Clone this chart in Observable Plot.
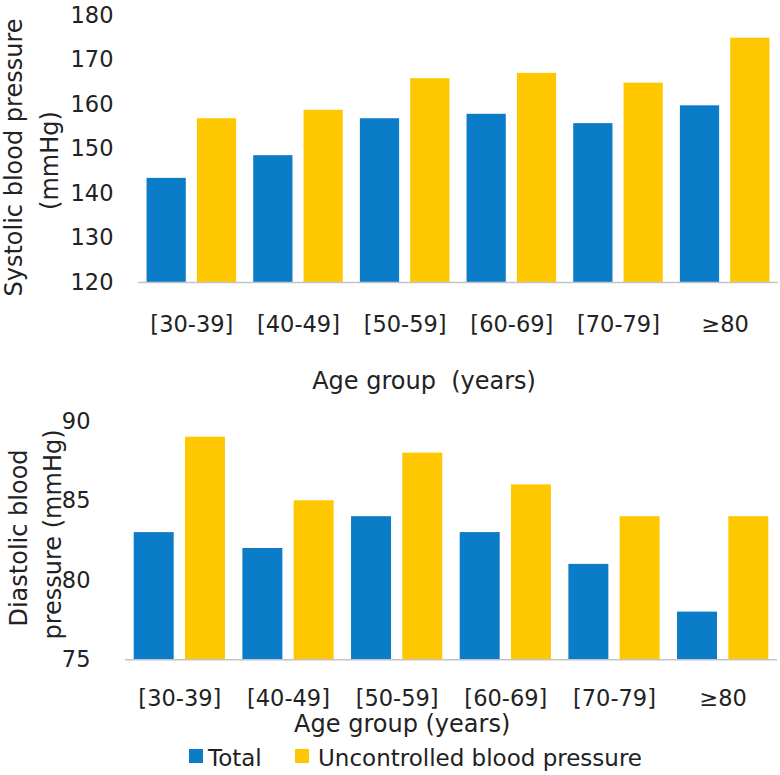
<!DOCTYPE html>
<html><head><meta charset="utf-8">
<script src="https://cdn.jsdelivr.net/npm/d3@7"></script>
<script src="https://cdn.jsdelivr.net/npm/@observablehq/plot@0.6"></script>
<style>
body{margin:0;background:#fff;}
#chart{position:relative;width:780px;height:775px;font-family:"DejaVu Sans",sans-serif;color:#222;overflow:hidden;}
#chart svg{display:block;}
.leg-box{position:absolute;width:14px;height:14px;}
.leg-txt{position:absolute;font-size:23px;line-height:23px;white-space:nowrap;}
</style></head><body><div id="chart"></div>
<script>
// ---- data ----
const ageGroups = ["[30-39]", "[40-49]", "[50-59]", "[60-69]", "[70-79]", "≥80"];
const seriesNames = ["Total", "Uncontrolled blood pressure"];
const systolicTotal = [143.4, 148.5, 156.8, 157.8, 155.7, 159.7];
const systolicUncontrolled = [156.8, 158.7, 165.8, 167.0, 164.8, 174.9];
const diastolicTotal = [83, 82, 84, 83, 81, 78];
const diastolicUncontrolled = [89, 85, 88, 86, 84, 84];
const systolicTicks = [120, 130, 140, 150, 160, 170, 180];
const diastolicTicks = [75, 80, 85, 90];
const seriesColors = ["#0a7cc8", "#ffc700"];

function rows(total, unc) {
  const out = [];
  ageGroups.forEach((g, i) => {
    out.push({group: g, series: seriesNames[0], value: total[i]});
    out.push({group: g, series: seriesNames[1], value: unc[i]});
  });
  return out;
}

const root = document.getElementById("chart");
const font = {fontFamily: "'DejaVu Sans', sans-serif", fontSize: "22.5px", color: "#222", background: "#fff", overflow: "visible"};

function panel(opts) {
  const data = rows(opts.total, opts.unc);
  const base = opts.ticks[0];
  return Plot.plot({
    width: 780, height: opts.height,
    marginLeft: opts.ml, marginRight: opts.mr, marginTop: opts.mt, marginBottom: opts.mb,
    style: font,
    fx: {domain: ageGroups, padding: 0, round: false, axis: "bottom", label: null, tickSize: 0, tickPadding: opts.fxPad},
    x: {domain: seriesNames, paddingInner: 0.22, paddingOuter: 0.17, round: false, axis: null},
    y: {domain: [base, opts.ticks[opts.ticks.length - 1]], ticks: opts.ticks, tickSize: 0, tickPadding: opts.yPad, label: null},
    color: {domain: seriesNames, range: seriesColors},
    marks: [
      Plot.barY(data, {fx: "group", x: "series", y1: base, y2: "value", fill: "series"}),
      Plot.ruleY([base], {stroke: "#c4c4c4", strokeWidth: 1.5}),
      ...opts.labels
    ]
  });
}

const topChart = panel({
  total: systolicTotal, unc: systolicUncontrolled, ticks: systolicTicks,
  height: 400, ml: 138, mr: 2, mt: 15, mb: 118, fxPad: 34, yPad: 25,
  labels: [
    Plot.text(["Systolic blood pressure"], {facet: "super", frameAnchor: "top-left", rotate: -90, textAnchor: "middle", lineAnchor: "bottom", fontSize: 24, dx: -116.5, dy: 142, fill: "#222"}),
    Plot.text(["(mmHg)"], {facet: "super", frameAnchor: "top-left", rotate: -90, textAnchor: "middle", lineAnchor: "bottom", fontSize: 24, dx: -81, dy: 145, fill: "#222"}),
    Plot.text(["Age group \u00a0(years)"], {facet: "super", frameAnchor: "bottom-left", textAnchor: "start", lineAnchor: "bottom", fontSize: 24, dx: 173.7, dy: 106, fill: "#222"})
  ]
});
root.appendChild(topChart);

const bottomChart = panel({
  total: diastolicTotal, unc: diastolicUncontrolled, ticks: diastolicTicks,
  height: 340, ml: 125, mr: 3, mt: 20.8, mb: 80.7, fxPad: 30, yPad: 35,
  labels: [
    Plot.text(["Diastolic blood"], {facet: "super", frameAnchor: "top-left", rotate: -90, textAnchor: "middle", lineAnchor: "bottom", fontSize: 24, dx: -98.5, dy: 116.7, fill: "#222"}),
    Plot.text(["pressure (mmHg)"], {facet: "super", frameAnchor: "top-left", rotate: -90, textAnchor: "middle", lineAnchor: "bottom", fontSize: 24, dx: -64.7, dy: 113.2, fill: "#222"}),
    Plot.text(["Age group (years)"], {facet: "super", frameAnchor: "bottom-left", textAnchor: "middle", lineAnchor: "bottom", fontSize: 24, dx: 276.7, dy: 71.7, fill: "#222"})
  ]
});
root.appendChild(bottomChart);

// legend (HTML, below the second SVG)
const legend = document.createElement("div");
legend.style.cssText = "position:absolute;left:0;top:740px;width:780px;height:35px;";
const legendPos = [{box: 189, txt: 208}, {box: 295, txt: 318}];
seriesNames.forEach((name, i) => {
  const b = document.createElement("div");
  b.className = "leg-box";
  b.style.left = legendPos[i].box + "px";
  b.style.top = "9px";
  b.style.background = seriesColors[i];
  legend.appendChild(b);
  const t = document.createElement("span");
  t.className = "leg-txt";
  t.style.left = legendPos[i].txt + "px";
  t.style.top = "6.5px";
  t.textContent = name;
  legend.appendChild(t);
});
root.appendChild(legend);
</script>
</body></html>
